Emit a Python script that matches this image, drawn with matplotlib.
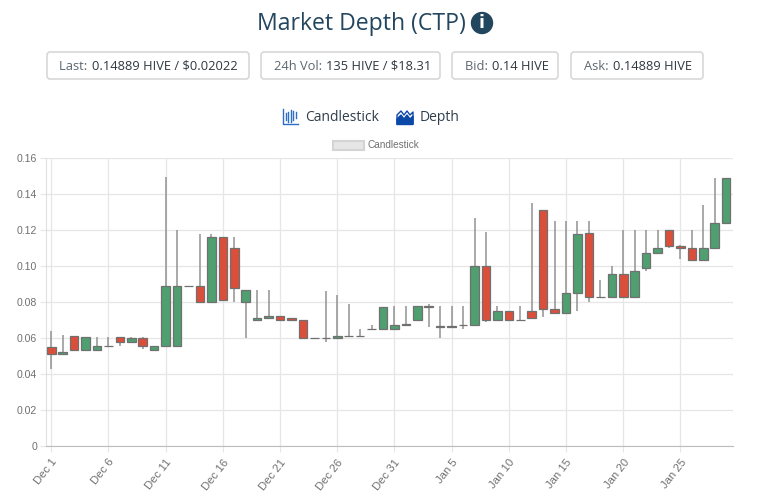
import matplotlib
matplotlib.use("Agg")
import matplotlib.pyplot as plt
from matplotlib.patches import FancyBboxPatch, Rectangle, Polygon, Circle

W, H = 768, 491

# one candle per day, Dec 1 to Jan 29
opens = [.0551, .0512, .0610, .0532, .0534, .0556, .0608, .0580, .0601, .0536,
         .0556, .0556, .0892, .0892, .0801, .1160, .1102, .0801, .0699, .0710,
         .0721, .0712, .0701, .0601, .0601, .0601, .0612, .0612, .0651, .0651,
         .0651, .0671, .0701, .0779, .0670, .0660, .0671, .0671, .1001, .0701,
         .0751, .0701, .0751, .1313, .0760, .0740, .0851, .1187, .0831, .0827,
         .0957, .0827, .0990, .1072, .1201, .1112, .1101, .1036, .1101, .1242]
closes = [.0512, .0523, .0532, .0608, .0556, .0556, .0580, .0601, .0558, .0556,
          .0892, .0892, .0892, .0801, .1160, .0810, .0881, .0868, .0712, .0721,
          .0701, .0701, .0601, .0601, .0601, .0612, .0612, .0612, .0651, .0771,
          .0671, .0681, .0780, .0771, .0660, .0670, .0671, .1001, .0701, .0751,
          .0701, .0701, .0710, .0760, .0740, .0851, .1177, .0831, .0827, .0957,
          .0827, .0973, .1072, .1101, .1112, .1101, .1036, .1101, .1242, .1493]
highs = [.0640, .0620, .0610, .0608, .0606, .0608, .0608, .0608, .0608, .0556,
         .1495, .1202, .0892, .1180, .1177, .1160, .1160, .0868, .0868, .0868,
         .0721, .0712, .0701, .0601, .0860, .0840, .0790, .0649, .0671, .0771,
         .0780, .0780, .0780, .0788, .0780, .0780, .0780, .1266, .1190, .0779,
         .0751, .0779, .1352, .1313, .1252, .1252, .1252, .1252, .0925, .1001,
         .1202, .1202, .1202, .1202, .1201, .1120, .1202, .1340, .1491, .1493]
lows = [.0430, .0512, .0532, .0532, .0534, .0556, .0556, .0580, .0538, .0536,
        .0556, .0556, .0892, .0801, .0801, .0810, .0801, .0601, .0699, .0710,
        .0701, .0701, .0601, .0601, .0577, .0601, .0612, .0612, .0651, .0651,
        .0651, .0671, .0701, .0662, .0601, .0660, .0651, .0671, .0691, .0701,
        .0701, .0701, .0710, .0716, .0732, .0740, .0751, .0801, .0827, .0827,
        .0827, .0827, .0973, .1072, .1103, .1038, .1036, .1036, .1101, .1242]
is_up = [c >= o for o, c in zip(opens, closes)]

tick_days = [0, 5, 10, 15, 20, 25, 30, 35, 40, 45, 50, 55]
tick_labels = ["Dec 1", "Dec 6", "Dec 11", "Dec 16", "Dec 21", "Dec 26", "Dec 31",
               "Jan 5", "Jan 10", "Jan 15", "Jan 20", "Jan 25"]
y_ticks = [0, .02, .04, .06, .08, .10, .12, .14, .16]
y_labels = ["0", "0.02", "0.04", "0.06", "0.08", "0.10", "0.12", "0.14", "0.16"]

stat_labels = ["Last: ", "24h Vol: ", "Bid: ", "Ask: "]
stat_values = ["0.14889 HIVE / $0.02022", "135 HIVE / $18.31", "0.14 HIVE", "0.14889 HIVE"]

RED = "#db4f3a"
GREEN = "#4f9f70"
EDGE = "#707070"
NAVY = "#23465f"

fig = plt.figure(figsize=(W / 100, H / 100), dpi=100, facecolor="white")

# chart area
left, right, top, bottom = 45.5, 732.5, 158.3, 446
ax = fig.add_axes([left / W, 1 - bottom / H, (right - left) / W, (bottom - top) / H])
ax.set_xlim(-0.5, 59.55)
ax.set_ylim(0, 0.16)
ax.set_axisbelow(True)
ax.grid(True, color="#e6e6e6", lw=0.9)
for s in ["top", "right"]:
    ax.spines[s].set_visible(False)
ax.spines["left"].set_color("#e0e0e0")
ax.spines["bottom"].set_color("#bdbdbd")

days = list(range(len(opens)))
ax.vlines(days, lows, highs, color="#929292", lw=1.1, zorder=2)
ax.bar(days, [c - o for o, c in zip(opens, closes)], bottom=opens, width=0.75,
       color=[GREEN if u else RED for u in is_up], edgecolor=EDGE, linewidth=0.9, zorder=3)

ax.set_yticks(y_ticks, y_labels)
ax.set_xticks(tick_days)
ax.set_xticklabels(tick_labels, rotation=52, ha="right", rotation_mode="anchor")
ax.tick_params(axis="y", length=4, color="#e6e6e6", labelcolor="#707070", pad=2)
ax.tick_params(axis="x", length=4, color="#e6e6e6", labelcolor="#707070", pad=4)
for lab in ax.get_yticklabels():
    lab.set_fontfamily("Liberation Sans")
    lab.set_fontsize(7.6)
for lab in ax.get_xticklabels():
    lab.set_fontfamily("Liberation Sans")
    lab.set_fontsize(8.2)

# page furniture, in pixel coordinates
over = fig.add_axes([0, 0, 1, 1], zorder=5)
over.set_xlim(0, W)
over.set_ylim(H, 0)
over.axis("off")

over.text(361.5, 23.5, "Market Depth (CTP)", fontsize=16.6, family="Open Sans", color=NAVY,
          ha="center", va="center")
over.add_patch(Circle((482, 23), 10.5, color=NAVY))
over.text(482, 23, "i", fontsize=12.5, family="DejaVu Sans", weight="bold", color="white",
          ha="center", va="center")

# stat boxes
box_edges = [(47, 249), (261, 440), (452, 558), (571, 703)]
text_starts = [59, 274, 465, 584]
for (x0, x1), tx, lab, val in zip(box_edges, text_starts, stat_labels, stat_values):
    over.add_patch(FancyBboxPatch((x0, 52), x1 - x0, 27, boxstyle="round,pad=0,rounding_size=3",
                                  fc="white", ec="#d8d8d8", lw=1.2))
    t = over.text(tx, 66, lab, fontsize=9.25, family="Open Sans", color="#5b6770",
                  ha="left", va="center")
    fig.canvas.draw()
    end = t.get_window_extent().x1
    over.text(end + 1, 66, val, fontsize=9.25, family="Open Sans", color="#2f3840",
              ha="left", va="center")

# tab icons and labels
over.plot([282.5, 282.5, 298], [109, 124, 124], color="#2a6fc4", lw=1)
for x, y0, y1 in zip([285.5, 288, 290.5, 293, 295.5], [113, 112, 110, 111, 112], [120, 122, 122, 120, 118]):
    over.plot([x, x], [y0, y1], color="#2a6fc4", lw=1)
over.text(305, 117, "Candlestick", fontsize=10, family="Open Sans", color="#2f3f4c",
          ha="left", va="center")
over.add_patch(Polygon([(397, 124.5), (397, 119), (401, 115), (404, 119), (407, 115),
                        (410, 119), (413, 116), (413, 124.5)], closed=True, color="#0b48a8"))
over.plot([397, 397, 401, 404, 407, 410, 413, 413], [124, 115, 111, 115, 111, 115, 112, 124],
          color="#0b48a8", lw=1)
over.text(420, 117, "Depth", fontsize=10, family="Open Sans", color="#2f3f4c",
          ha="left", va="center")

# chart legend
over.add_patch(Rectangle((332.5, 140.5), 31.5, 9, fc="#e6e6e6", ec="#d4d4d4", lw=1.5))
over.text(368, 144.5, "Candlestick", fontsize=7.2, family="Liberation Sans", color="#707070",
          ha="left", va="center")

fig.savefig("out.png", dpi=100)
